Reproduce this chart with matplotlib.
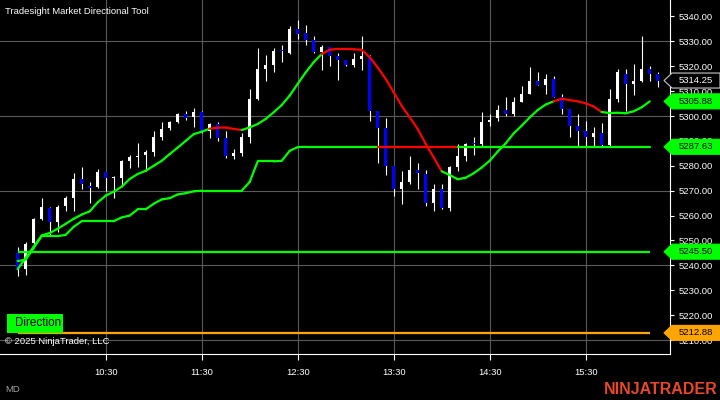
import numpy as np
import pandas as pd
import matplotlib
matplotlib.use("Agg")
import matplotlib.pyplot as plt
import matplotlib.transforms as mtransforms
from matplotlib.collections import LineCollection
from matplotlib.patches import Polygon, Rectangle

plt.rcParams["font.family"] = ["Liberation Sans", "DejaVu Sans"]

# ── 5-minute bars (OHLC) ────────────────────────────────────────────
opens = [5245.0, 5238.5, 5249.0, 5258.5, 5263.0, 5257.25, 5263.75, 5267.25, 5274.5, 5272.0,
         5271.5, 5277.5, 5275.25, 5275.25, 5282.0, 5283.5, 5284.25, 5285.5, 5291.5, 5295.25,
         5297.5, 5300.75, 5299.75, 5301.5, 5294.0, 5296.75, 5291.25, 5283.75, 5285.0, 5291.75,
         5307.0, 5319.0, 5320.5, 5326.25, 5325.5, 5335.0, 5333.25, 5330.5, 5325.75, 5327.75,
         5324.25, 5322.5, 5320.5, 5323.0, 5324.25, 5302.0, 5295.0, 5279.75, 5270.5, 5273.5,
         5278.5, 5276.75, 5265.0, 5270.75, 5263.0, 5279.5, 5283.75, 5289.25, 5288.75, 5297.75,
         5299.0, 5302.5, 5301.0, 5305.75, 5309.0, 5314.25, 5312.5, 5314.75, 5307.75, 5303.0,
         5296.0, 5294.0, 5291.5, 5293.0, 5288.5, 5307.0, 5317.0, 5313.0, 5314.0, 5319.0,
         5316.75]
highs = [5247.25, 5249.5, 5259.0, 5267.25, 5263.25, 5264.25, 5268.0, 5277.0, 5279.5, 5273.5,
         5278.75, 5277.5, 5275.75, 5282.5, 5284.5, 5289.0, 5286.5, 5294.0, 5297.5, 5298.0,
         5301.25, 5302.0, 5303.25, 5302.0, 5297.25, 5297.5, 5294.0, 5286.75, 5293.25, 5311.0,
         5327.5, 5324.5, 5327.5, 5328.5, 5336.25, 5338.75, 5336.5, 5332.0, 5328.5, 5327.75,
         5325.5, 5322.5, 5325.5, 5332.0, 5324.5, 5302.0, 5299.25, 5279.75, 5278.0, 5283.75,
         5281.25, 5278.5, 5272.75, 5272.75, 5280.0, 5288.75, 5289.25, 5291.5, 5301.75, 5301.0,
         5304.25, 5307.5, 5307.5, 5312.25, 5319.5, 5317.5, 5316.75, 5316.25, 5309.0, 5303.0,
         5301.0, 5298.0, 5295.75, 5297.0, 5311.0, 5318.75, 5319.0, 5320.75, 5332.0, 5320.0,
         5317.5]
lows = [5235.75, 5236.0, 5248.0, 5258.25, 5252.0, 5253.25, 5262.0, 5262.0, 5270.5, 5265.25,
        5271.0, 5270.0, 5267.25, 5272.0, 5279.25, 5279.5, 5278.0, 5283.75, 5290.5, 5294.5,
        5297.25, 5298.5, 5295.75, 5293.25, 5291.0, 5290.0, 5283.0, 5282.75, 5283.75, 5289.0,
        5306.5, 5314.25, 5317.5, 5321.5, 5325.0, 5331.0, 5328.5, 5325.5, 5318.5, 5320.0,
        5314.5, 5320.0, 5319.5, 5318.5, 5298.0, 5281.0, 5276.5, 5268.0, 5264.5, 5272.5,
        5270.75, 5263.75, 5262.0, 5262.75, 5262.0, 5277.75, 5282.0, 5284.5, 5288.0, 5296.0,
        5298.0, 5300.0, 5300.0, 5305.75, 5309.0, 5312.5, 5309.0, 5307.75, 5301.0, 5291.5,
        5287.5, 5287.5, 5287.5, 5287.5, 5287.5, 5305.75, 5302.0, 5308.5, 5313.5, 5314.25,
        5311.5]
closes = [5238.5, 5248.75, 5258.5, 5263.25, 5257.25, 5263.5, 5267.25, 5274.5, 5272.5, 5271.25,
          5277.5, 5275.25, 5275.25, 5282.0, 5283.5, 5283.75, 5285.5, 5291.5, 5294.75, 5297.5,
          5300.75, 5299.25, 5301.5, 5294.0, 5296.75, 5291.0, 5283.75, 5285.0, 5291.75, 5307.0,
          5319.0, 5320.5, 5326.25, 5326.0, 5335.0, 5333.0, 5330.5, 5325.75, 5327.75, 5324.25,
          5322.5, 5320.5, 5323.0, 5324.25, 5302.0, 5295.0, 5279.75, 5270.5, 5273.5, 5278.5,
          5277.25, 5265.25, 5270.75, 5263.0, 5279.5, 5284.0, 5288.75, 5288.75, 5297.75, 5298.25,
          5302.25, 5301.0, 5305.5, 5309.0, 5314.25, 5312.5, 5314.75, 5307.75, 5303.0, 5296.0,
          5294.0, 5291.5, 5293.0, 5288.5, 5307.0, 5317.5, 5313.0, 5314.0, 5319.0, 5317.0,
          5314.25]

# ── indicator plots (drawn up to the last closed bar) ───────────────
trend_ma = [5238.5, 5243.0, 5247.5, 5252.0, 5253.0, 5254.7, 5256.7, 5258.7, 5260.4, 5261.7,
            5265.3, 5268.0, 5269.6, 5271.6, 5274.7, 5276.7, 5278.0, 5280.0, 5282.0, 5284.7,
            5287.3, 5290.0, 5292.7, 5293.7, 5294.9, 5295.3, 5295.4, 5294.8, 5294.4, 5295.4,
            5296.8, 5298.8, 5301.5, 5304.4, 5308.2, 5312.9, 5317.5, 5321.6, 5324.9, 5326.6,
            5327.0, 5327.0, 5326.8, 5326.6, 5323.6, 5319.5, 5314.9, 5309.5, 5304.1, 5299.5,
            5294.8, 5288.8, 5283.4, 5277.8, 5276.3, 5274.6, 5275.2, 5277.0, 5279.3, 5282.0,
            5285.7, 5289.0, 5293.0, 5296.1, 5299.4, 5302.4, 5304.6, 5305.9, 5306.9, 5306.4,
            5305.9, 5305.1, 5303.8, 5301.6, 5301.2, 5301.3, 5301.1, 5301.9, 5303.5, 5305.88]
stop_line = [5241.75, 5242.25, 5247.0, 5251.75, 5251.75, 5251.75, 5252.25, 5255.5, 5257.75, 5257.75,
             5257.75, 5257.75, 5257.75, 5259.25, 5260.0, 5262.5, 5262.5, 5264.75, 5266.5, 5267.0,
             5268.5, 5269.0, 5269.75, 5270.0, 5270.0, 5270.0, 5270.0, 5270.0, 5270.0, 5273.5,
             5281.75, 5281.75, 5281.75, 5282.0, 5286.0, 5287.5] + [5287.63] * 44
ma_red_spans = [(24, 28), (38, 53), (67, 73)]
stop_red_spans = [(45, 55)]
support_level = 5245.50
direction_level = 5212.88
grid_levels = [5210, 5240, 5270, 5300, 5330]
price_ticks = np.arange(5210, 5341, 10)

GREEN = "#00ff00"
RED = "#ff0000"
ORANGE = "#ffa500"
BLUE = "#0000ff"
GRID = "#5a5a5a"

bar_times = pd.date_range("2025-01-02 09:35", periods=len(opens), freq="5min")


def segment_colors(n, red_spans):
    cols = []
    for i in range(1, n):
        red = any(a < i <= b for a, b in red_spans)
        cols.append(RED if red else GREEN)
    return cols


def colored_line(ax, values, red_spans, lw):
    pts = np.column_stack([np.arange(len(values)), values])
    segs = np.stack([pts[:-1], pts[1:]], axis=1)
    lc = LineCollection(segs, colors=segment_colors(len(values), red_spans),
                        linewidths=lw, zorder=5, capstyle="round", joinstyle="round")
    ax.add_collection(lc)


fig = plt.figure(figsize=(7.2, 4), dpi=100, facecolor="black")
ax = fig.add_axes([0, 46 / 400, 670 / 720, 354 / 400], facecolor="black")

x = np.arange(len(opens))
o = np.array(opens)
c = np.array(closes)
up = c >= o

# grid
for g in grid_levels:
    ax.axhline(g, color=GRID, lw=0.8, zorder=1)
tick_idx = [i for i, t in enumerate(bar_times) if t.minute == 30]
tick_lbl = [bar_times[i].strftime("%H:%M") for i in tick_idx]
for i in tick_idx:
    ax.axvline(i, color=GRID, lw=0.8, zorder=1)

# candles
ax.vlines(x, lows, highs, color="white", lw=0.8, zorder=3)
body_lo = np.minimum(o, c)
body_h = np.maximum(np.abs(c - o), 0.35)
ax.bar(x, body_h, bottom=body_lo, width=0.45,
       color=np.where(up, "white", BLUE), linewidth=0, zorder=4)

# indicator lines
n_ind = len(trend_ma)
ax.hlines(support_level, 0, n_ind - 1, color=GREEN, lw=1.6, zorder=5)
ax.hlines(direction_level, 0, n_ind - 1, color=ORANGE, lw=1.6, zorder=5)
colored_line(ax, stop_line, stop_red_spans, 1.6)
colored_line(ax, trend_ma, ma_red_spans, 1.6)

ax.set_xlim(-2.21, 81.54)
ax.set_ylim(5204.4, 5346.6)

for s in ["top", "left"]:
    ax.spines[s].set_visible(False)
for s in ["right", "bottom"]:
    ax.spines[s].set_color("white")
    ax.spines[s].set_linewidth(0.8)

ax.yaxis.tick_right()
ax.set_yticks(price_ticks)
ax.set_yticklabels([f"{v:.2f}" for v in price_ticks])
ax.set_xticks(tick_idx)
ax.set_xticklabels(tick_lbl)
ax.tick_params(axis="y", colors="white", length=3, width=0.8, pad=3.5, labelsize=6.8)
ax.tick_params(axis="x", colors="white", length=4, width=0.8, pad=6, labelsize=6.8)

# price markers on the right axis
trans = mtransforms.blended_transform_factory(fig.transFigure, ax.transData)
half = 7.5 * (5346.6 - 5204.4) / 354
markers = [
    (closes[-1], "black", "#c8c8c8", "white"),
    (trend_ma[-1], GREEN, GREEN, "black"),
    (stop_line[-1], GREEN, GREEN, "black"),
    (support_level, GREEN, GREEN, "black"),
    (direction_level, ORANGE, ORANGE, "black"),
]
for val, fc, ec, tc in markers:
    poly = Polygon([(664 / 720, val), (672 / 720, val + half), (1.0, val + half),
                    (1.0, val - half), (672 / 720, val - half)],
                   closed=True, transform=trans, facecolor=fc, edgecolor=ec,
                   lw=0.8, clip_on=False, zorder=20)
    ax.add_patch(poly)
    ax.text(679 / 720, val, f"{val:.2f}", transform=trans, color=tc, fontsize=6.8,
            va="center", ha="left", clip_on=False, zorder=21)

# texts
fig.text(5 / 720, 1 - 11 / 400, "Tradesight Market Directional Tool",
         color="white", fontsize=6.8, va="center", ha="left")
fig.add_artist(Rectangle((7 / 720, 1 - 333 / 400), 56 / 720, 19 / 400,
                         transform=fig.transFigure, facecolor=GREEN, edgecolor="none", zorder=6))
fig.text(15 / 720, 1 - 323.5 / 400, "Direction", color="black", fontsize=8.4,
         va="center", ha="left", zorder=7)
fig.text(5 / 720, 1 - 342 / 400, "\u00a9 2025 NinjaTrader, LLC", color="white",
         fontsize=6.8, va="center", ha="left", zorder=7)
fig.text(5 / 720, 1 - 390 / 400, "MD", color="#a0a0a0", fontsize=6.8, va="center", ha="left")
fig.text(718 / 720, 1 - 390 / 400, "NINJATRADER", color="#e9472a", fontsize=11.5,
         fontweight="bold", va="center", ha="right")

fig.savefig("out.png", dpi=100, facecolor="black")
plt.close(fig)
print("saved out.png")
